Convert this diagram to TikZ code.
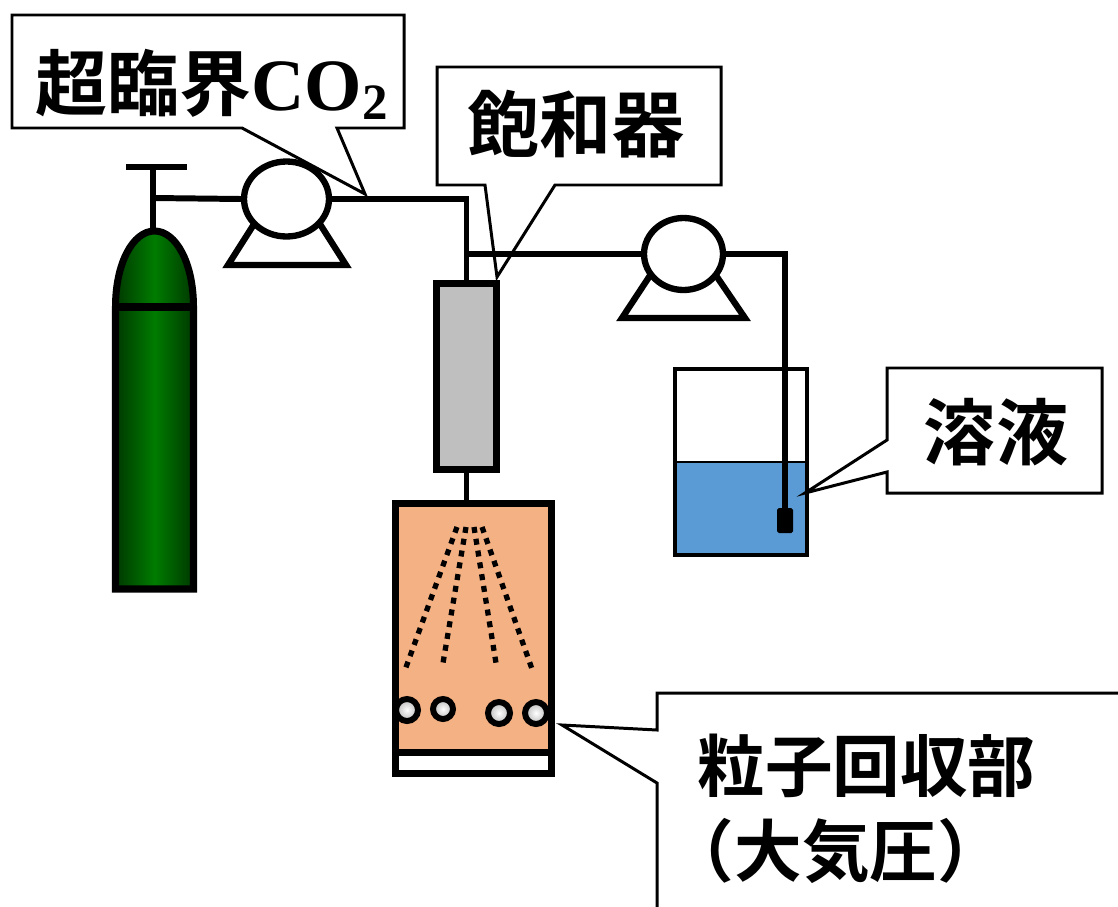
\documentclass[tikz,border=0pt]{standalone}
\usepackage{fontspec}
\setmainfont{Liberation Serif}
\newfontfamily\jp{Noto Sans CJK JP Bold}
\usetikzlibrary{calc,shapes.geometric}

\definecolor{gasgreen}{HTML}{007C00}
\definecolor{gasdark}{HTML}{003800}
\definecolor{satgray}{HTML}{BFBFBF}
\definecolor{trapfill}{HTML}{F4B183}
\definecolor{liquid}{HTML}{5B9BD5}

\begin{document}
\begin{tikzpicture}[
    x=0.02cm, y=-0.02cm,
    pipe/.style={line width=3.4pt},
    part/.style={
        rectangle,
        draw=black,
        line width=4pt,
        inner sep=0pt
    },
    pumphead/.style={
        ellipse,
        draw=black,
        fill=white,
        line width=3.6pt,
        inner sep=0pt
    },
    pumpbase/.style={line width=3.6pt, fill=white, line join=miter},
    spray/.style={line width=3pt, dash pattern=on 3.4pt off 3.4pt},
    particle/.style={
        circle,
        draw=black,
        line width=3.4pt,
        inner color=white,
        outer color=gray!55,
        inner sep=0pt
    },
    callout/.style={line width=1.7pt, line join=miter},
    label/.style={
        font=\jp\fontsize{41}{48}\selectfont,
        inner sep=0pt,
        align=left
    }
]

\useasboundingbox (0,0) rectangle (1118,906);

% CO2 cylinder and valve
\draw[line width=4pt, left color=gasdark, right color=gasdark, middle color=gasgreen]
    (115.5,589) -- (115.5,307) .. controls (115.5,263) and (133,231) .. (154.5,231)
    .. controls (176,231) and (193.5,263) .. (193.5,307) -- (193.5,589) -- cycle;
\draw[line width=4pt] (115.5,307) -- (193.5,307);
\draw[pipe] (126,167) -- (187,167);
\draw[pipe] (153,167) -- (153,230);
\coordinate (valve) at (153,198);

% pump on the CO2 line
\draw[pumpbase] (256,221) -- (228,265) -- (346,265) -- (318,221);
\node[pumphead, minimum width=1.7cm, minimum height=1.5cm] (pumpA) at (286.5,199) {};

% saturator
\node[part, fill=satgray, minimum width=1.2cm, minimum height=3.72cm] (sat) at (466.5,376.5) {};

\draw[pipe] (valve) -- (pumpA.west);
\draw[pipe] (pumpA.east) -- (pumpA.east -| sat.north) -- (sat.north);

% solution pump
\draw[pumpbase] (651,274) -- (622,318) -- (745,318) -- (715,274);
\node[pumphead, minimum width=1.58cm, minimum height=1.44cm] (pumpB) at (683.5,254) {};

\draw[pipe] (pumpB.west) -- (pumpB.west -| sat.north);

% beaker with solution
\fill[liquid] (675,462) rectangle (807,555);
\draw[line width=1.2pt] (675,462) -- (807,462);
\node[rectangle, fill=black, rounded corners=1pt, minimum width=0.32cm, minimum height=0.5cm,
      inner sep=0pt] (nozzle) at (785,520.5) {};
\draw[pipe] (pumpB.east) -| (nozzle.north);
\draw[line width=2.2pt] (675,369) rectangle (807,555);

% particle collection vessel
\node[part, fill=white, minimum width=3.12cm, minimum height=0.43cm] (vbase) at (473.5,762.5) {};
\node[part, fill=trapfill, minimum width=3.12cm, minimum height=4.97cm] (vessel) at (473.5,627.8) {};

\draw[pipe] (sat.south) -- (sat.south |- vessel.north);

% spray from the nozzle
\draw[spray] (457,527) -- (405,670);
\draw[spray] (466,527) -- (443,663);
\draw[spray] (474,527) -- (496,663);
\draw[spray] (482,527) -- (532,669);

% collected particles
\node[particle, minimum size=0.44cm] (p1) at (407,710) {};
\node[particle, minimum size=0.4cm] (p2) at (443,709) {};
\node[particle, minimum size=0.44cm] (p3) at (499,713) {};
\node[particle, minimum size=0.44cm] (p4) at (536,713) {};

% callouts
\draw[callout] (12,15) -- (404,15) -- (404,128) -- (337,128) -- (365,194) -- (242,128) -- (12,128) -- cycle;
\draw[callout] (437,67) -- (721,67) -- (721,185) -- (555,185) -- (497,277) -- (485,185) -- (437,185) -- cycle;
\draw[callout] (887,368) -- (1102,368) -- (1102,493) -- (887,493) -- (887,472) -- (805,493) -- (887,440) -- cycle;
\draw[callout] (1130,693) -- (657,693) -- (657,730) -- (562,725) -- (657,783) -- (657,920);

\node[label, anchor=base west] (lblco) at (35,110)
    {超臨界{\rmfamily\bfseries\fontsize{42}{48}\selectfont CO\raisebox{-5.5pt}{\fontsize{29}{30}\selectfont 2}}};
\node[label] (lblsat) at (576,124.5) {飽和器};
\node[label] (lblsol) at (996,432.5) {溶液};
\node[label, font=\jp\fontsize{38.5}{48}\selectfont, anchor=north west] (lblcol) at (697,734)
    {粒子回収部\\\hspace*{-0.45em}（大気圧）};

\end{tikzpicture}
\end{document}
